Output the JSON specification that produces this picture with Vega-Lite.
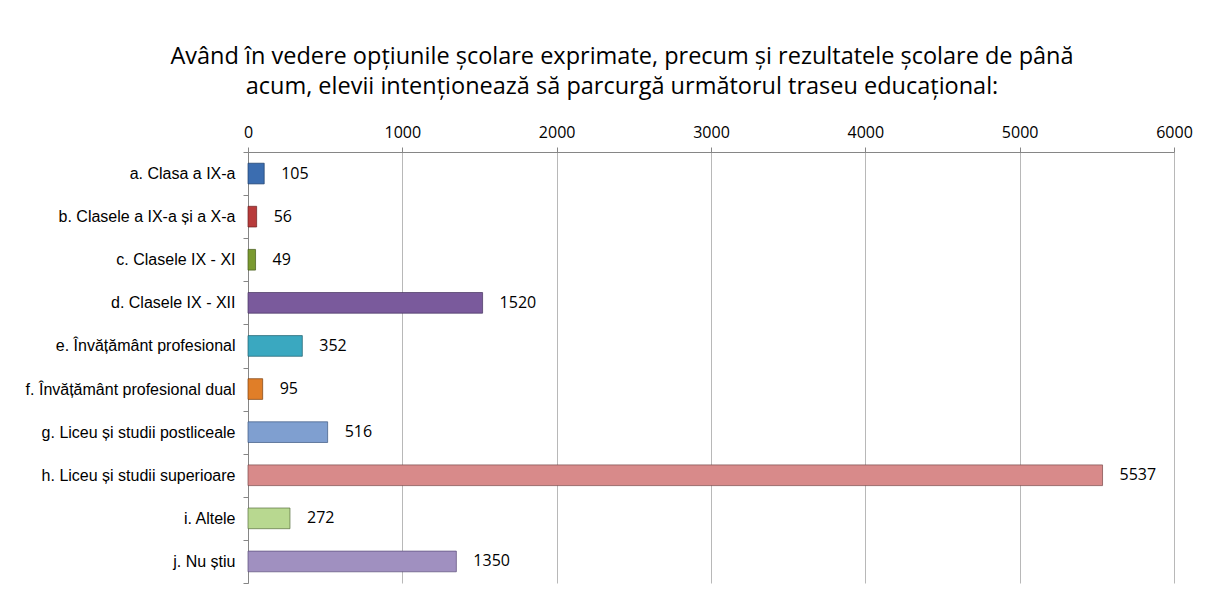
{
  "$schema": "https://vega.github.io/schema/vega-lite/v6.json",
  "width": 926,
  "height": 431,
  "autosize": {"type": "none"},
  "padding": {"left": 248, "top": 152, "right": 36, "bottom": 21},
  "background": "white",
  "title": {
    "text": ["Având în vedere opțiunile școlare exprimate, precum și rezultatele școlare de până", "acum, elevii intenționează să parcurgă următorul traseu educațional:"],
    "font": "Open Sans",
    "fontSize": 23.5,
    "fontWeight": "normal",
    "color": "#000000",
    "lineHeight": 30,
    "anchor": "middle",
    "dx": -89,
    "offset": 26
  },
  "data": {
    "values": [
      {"cat": "a. Clasa a IX-a", "val": 105},
      {"cat": "b. Clasele a IX-a și a X-a", "val": 56},
      {"cat": "c. Clasele IX - XI", "val": 49},
      {"cat": "d. Clasele IX - XII", "val": 1520},
      {"cat": "e. Învățământ profesional", "val": 352},
      {"cat": "f. Învățământ profesional dual", "val": 95},
      {"cat": "g. Liceu și studii postliceale", "val": 516},
      {"cat": "h. Liceu și studii superioare", "val": 5537},
      {"cat": "i. Altele", "val": 272},
      {"cat": "j. Nu știu", "val": 1350}
    ]
  },
  "encoding": {
    "y": {
      "field": "cat",
      "type": "nominal",
      "sort": null,
      "scale": {"paddingInner": 0, "paddingOuter": 0},
      "axis": {
        "title": null,
        "tickBand": "extent",
        "labelFont": "Liberation Sans",
        "labelFontSize": 16,
        "labelColor": "#000000",
        "labelPadding": 8,
        "tickSize": 5,
        "tickColor": "#868686",
        "domainColor": "#868686",
        "labelLimit": 300
      }
    },
    "x": {
      "field": "val",
      "type": "quantitative",
      "scale": {"domain": [0, 6000], "nice": false},
      "axis": {
        "orient": "top",
        "title": null,
        "values": [0, 1000, 2000, 3000, 4000, 5000, 6000],
        "format": "d",
        "labelFont": "Open Sans",
        "labelFontSize": 16,
        "labelColor": "#000000",
        "labelPadding": 7,
        "tickSize": 5,
        "tickColor": "#868686",
        "domainColor": "#868686",
        "grid": true,
        "gridColor": "#b8b8b8",
        "labelFlush": false
      }
    }
  },
  "layer": [
    {
      "mark": {"type": "bar", "height": {"band": 0.48}, "strokeWidth": 1, "strokeOpacity": 0.7},
      "encoding": {
        "color": {
          "field": "cat",
          "type": "nominal",
          "sort": null,
          "legend": null,
          "scale": {"range": ["#3b6db0", "#b83b3b", "#7a9a30", "#7a5a9c", "#3aa8c0", "#e07e28", "#7f9fd0", "#d88a8a", "#b8d890", "#a090c0"]}
        },
        "stroke": {
          "field": "cat",
          "type": "nominal",
          "sort": null,
          "legend": null,
          "scale": {"range": ["#1f3f6a", "#6a1f1f", "#44581a", "#463360", "#1f5f6e", "#7a4010", "#3c5780", "#7a4848", "#5a7040", "#5a4c78"]}
        }
      }
    },
    {
      "mark": {"type": "text", "align": "left", "dx": 17, "font": "Open Sans", "fontSize": 16, "color": "#000000"},
      "encoding": {
        "text": {"field": "val", "type": "quantitative", "format": "d"}
      }
    }
  ],
  "config": {
    "view": {"stroke": null}
  }
}
